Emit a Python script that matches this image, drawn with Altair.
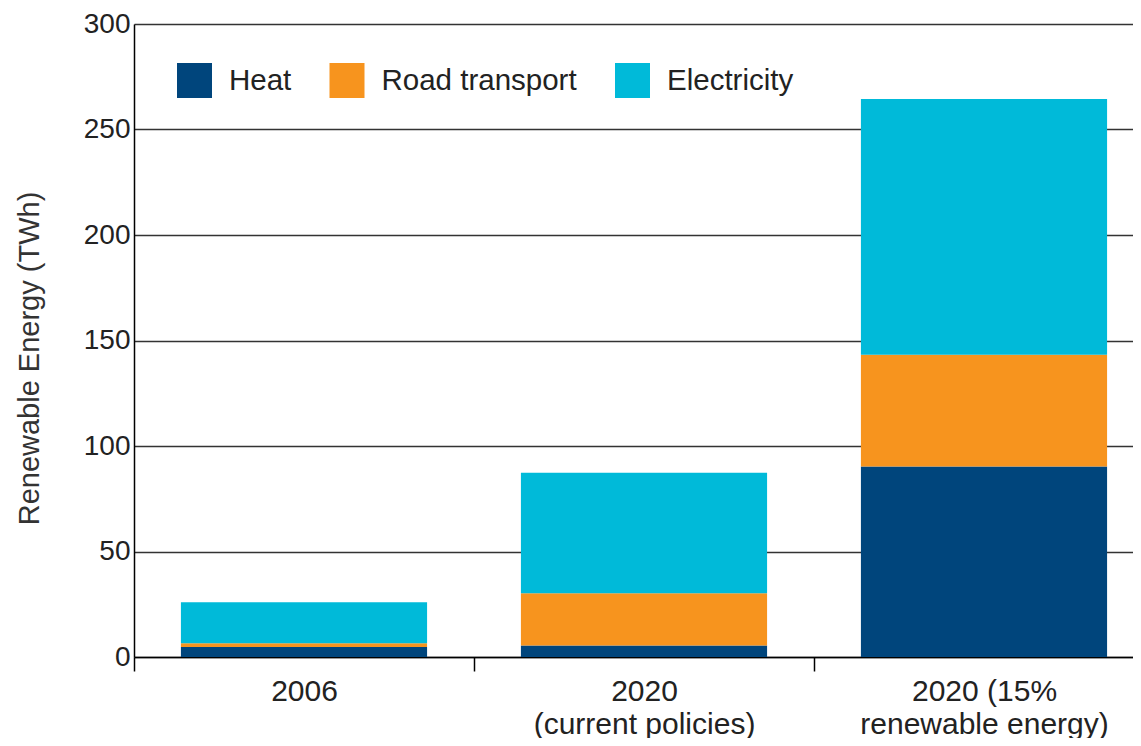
import altair as alt
import pandas as pd

categories = ["2006", "2020|(current policies)", "2020 (15%|renewable energy)"]
series = ["Heat", "Road transport", "Electricity"]
heat = [4.7, 5.4, 90.3]
road_transport = [1.8, 24.8, 52.9]
electricity = [19.5, 57.1, 121.3]
colors = ["#00457c", "#f7941e", "#00bad9"]
y_ticks = [0, 50, 100, 150, 200, 250, 300]

rows = []
for i, c in enumerate(categories):
    for k, (s, vals) in enumerate(zip(series, [heat, road_transport, electricity])):
        rows.append({"category": c, "series": s, "value": vals[i], "order": k})
df = pd.DataFrame(rows)

FONT = "Liberation Sans"
TXT = "#222222"

chart = alt.Chart(df).mark_bar(width=alt.RelativeBandSize(0.724)).encode(
    x=alt.X(
        "category:N",
        sort=categories,
        scale=alt.Scale(paddingInner=0, paddingOuter=0, range=[0, 1020]),
        axis=alt.Axis(
            title=None,
            labelAngle=0,
            labelExpr="split(datum.label, '|')",
            labelFont=FONT,
            labelFontSize=30,
            labelColor=TXT,
            labelLineHeight=33,
            labelPadding=5,
            labelLimit=500,
            tickBand="extent",
            tickSize=14,
            tickColor="#000000",
            tickWidth=1.5,
            domainColor="#000000",
            domainWidth=1.5,
            grid=False,
        ),
    ),
    y=alt.Y(
        "value:Q",
        stack="zero",
        scale=alt.Scale(domain=[0, 300], nice=False),
        axis=alt.Axis(
            values=y_ticks,
            title="Renewable Energy (TWh)",
            titleFont=FONT,
            titleFontSize=29,
            titleFontWeight="normal",
            titleColor="#333333",
            titlePadding=39,
            titleY=334,
            labelFont=FONT,
            labelFontSize=28,
            labelColor=TXT,
            labelPadding=4,
            ticks=False,
            domainColor="#000000",
            domainWidth=1.5,
            gridColor="#333333",
            gridWidth=1.3,
        ),
    ),
    color=alt.Color(
        "series:N",
        sort=series,
        scale=alt.Scale(domain=series, range=colors),
        legend=alt.Legend(
            title=None,
            orient="none",
            legendX=43,
            legendY=39,
            direction="horizontal",
            symbolType="square",
            symbolSize=1225,
            symbolStrokeWidth=0,
            symbolOpacity=1,
            labelFont=FONT,
            labelFontSize=29.5,
            labelColor=TXT,
            labelOffset=17,
            labelLimit=500,
            columnPadding=37.5,
            padding=0,
        ),
    ),
    order=alt.Order("order:Q"),
).properties(
    width=999,
    height=633,
    autosize=alt.AutoSizeParams(type="none"),
    padding={"left": 126, "top": 16, "right": 0, "bottom": 81},
).configure_view(stroke="transparent")

chart.save("out.html", embed_options={"renderer": "svg", "actions": False})
